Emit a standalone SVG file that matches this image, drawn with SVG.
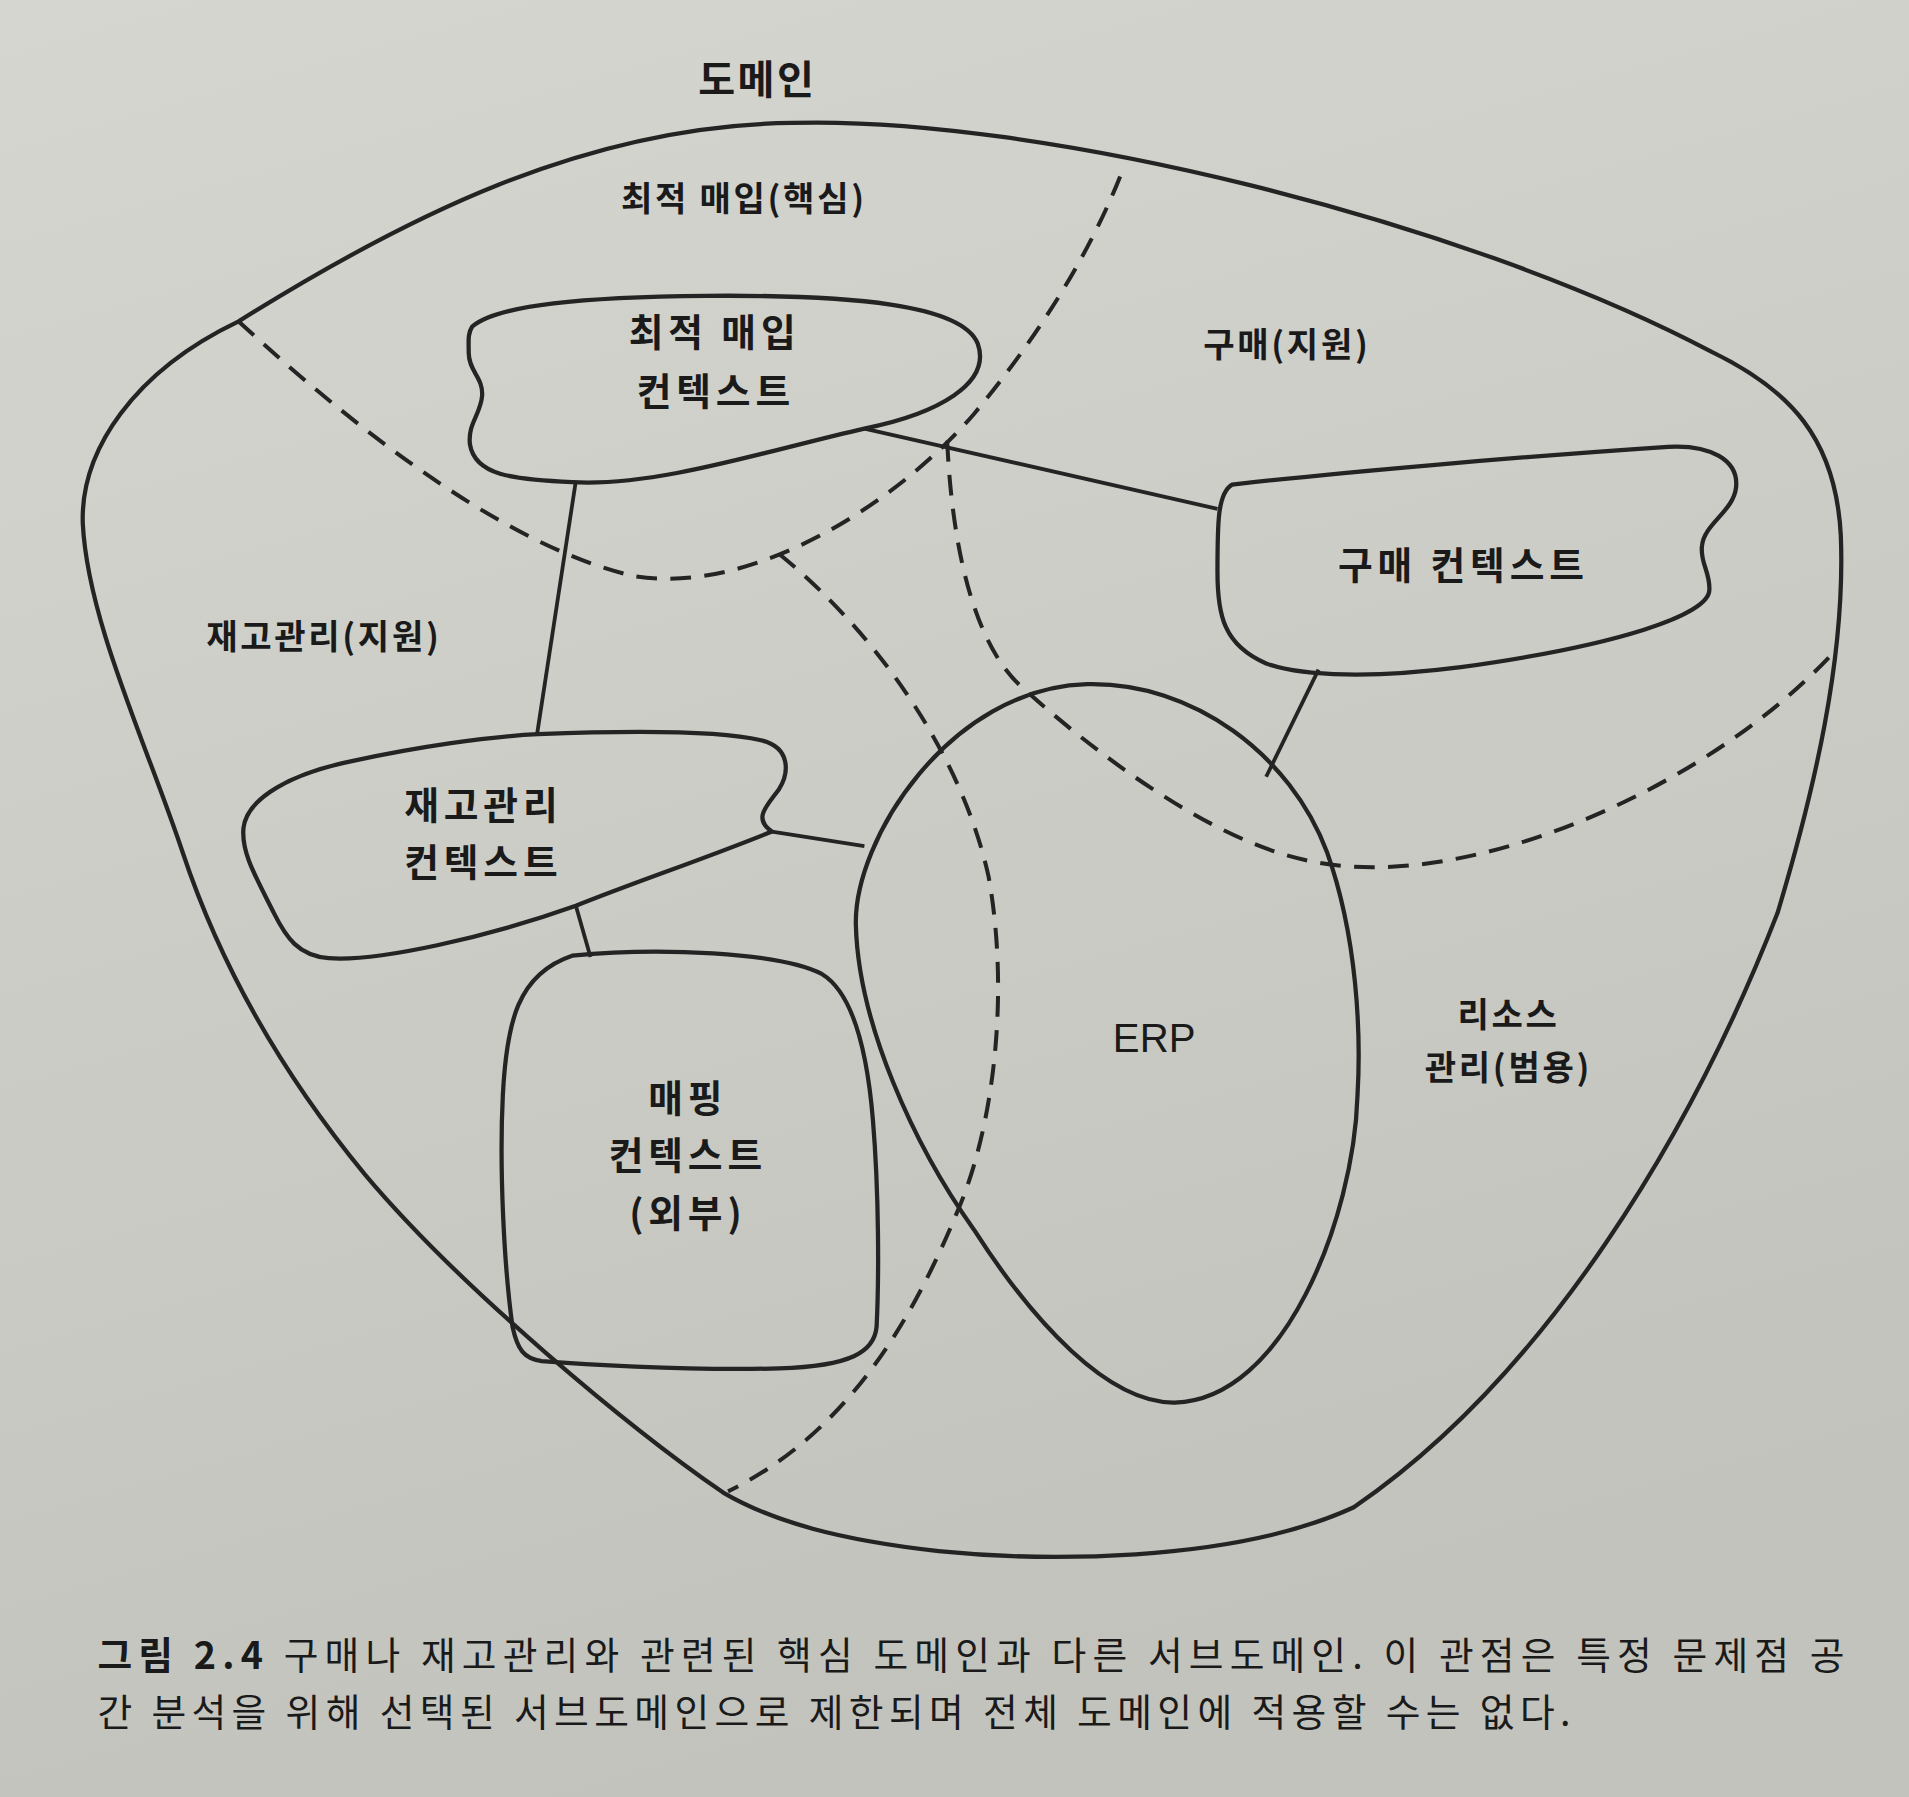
<svg xmlns="http://www.w3.org/2000/svg" width="1909" height="1797" viewBox="0 0 1909 1797">
<defs>
<linearGradient id="paper" x1="0" y1="0" x2="0.3" y2="1">
<stop offset="0" stop-color="#d5d6cf"/>
<stop offset="0.6" stop-color="#cacbc4"/>
<stop offset="1" stop-color="#c2c3bc"/>
</linearGradient>
<style>
.ln{fill:none;stroke:#242424;stroke-width:3.5;stroke-linejoin:round;stroke-linecap:round}
.ds{fill:none;stroke:#242424;stroke-width:3.3;stroke-dasharray:17 11}
.cn{fill:none;stroke:#242424;stroke-width:3.1}
.t{font-family:"Noto Sans CJK KR","Noto Sans",sans-serif;fill:#1a1a1a;text-anchor:middle;dominant-baseline:central}
.nl{font-size:31px;font-weight:700;letter-spacing:4px}
.rl{font-size:28px;font-weight:700;letter-spacing:2.2px}
.cap{font-family:"Noto Sans CJK KR","Noto Sans",sans-serif;fill:#1a1a1a;font-size:31px}
</style>
</defs>
<rect width="1909" height="1797" fill="url(#paper)"/>
<g transform="scale(1.21747)">
<g id="domain">
<path class="ln" d="M196,264 C330,180 480,103 650,101 C850,95 1200,180 1406,289 C1470,320 1508,360 1512,440 C1516,540 1490,650 1460,750 C1390,930 1270,1130 1112,1238 C1010,1285 850,1282 771,1274 C690,1265 635,1250 594,1226 C520,1175 380,1060 300,965 C230,880 180,790 150,700 C120,610 72,510 68,430 C66,370 110,305 196,264 Z"/>
<text class="t" x="622" y="63" style="font-size:33px;font-weight:700;letter-spacing:2px">도메인</text>
</g>
<g id="subdomain-boundaries">
<path class="ds" d="M196,264 C300,360 420,450 520,473 C620,490 740,410 800,340 C850,280 895,210 922,140"/>
<path class="ds" d="M640,455 C720,520 790,620 812,720 C830,820 815,930 786,996 C745,1095 690,1180 598,1225"/>
<path class="ds" d="M778,362 C782,450 800,530 840,565 C890,610 990,690 1075,707 C1200,735 1400,650 1505,537"/>
</g>
<g id="connectors">
<line class="cn" x1="710" y1="352" x2="1000" y2="418"/>
<line class="cn" x1="473" y1="395" x2="441" y2="604"/>
<line class="cn" x1="634" y1="683" x2="710" y2="695"/>
<line class="cn" x1="473" y1="744" x2="485" y2="786"/>
<line class="cn" x1="1083" y1="550" x2="1040" y2="638"/>
</g>
<g id="sd-core">
<text class="t rl" x="611" y="161">최적 매입(핵심)</text>
</g>
<g id="sd-purchase">
<text class="t rl" x="1057" y="281">구매(지원)</text>
</g>
<g id="sd-inventory">
<text class="t rl" x="266" y="521">재고관리(지원)</text>
</g>
<g id="sd-resource">
<text class="t rl" x="1239" y="831">리소스</text>
<text class="t rl" x="1239" y="875">관리(범용)</text>
</g>
<g id="ctx-optimal">
<path class="ln" d="M388,268 C410,250 480,244 580,243 C700,242 790,250 803,282 C815,315 770,340 710,352 C630,370 540,400 470,396 C420,394 390,390 386,365 C384,348 395,340 396,325 C397,310 385,305 385,290 C385,280 384,274 388,268 Z"/>
<text class="t nl" x="587" y="271">최적 매입</text>
<text class="t nl" x="588" y="319">컨텍스트</text>
</g>
<g id="ctx-purchase">
<path class="ln" d="M1012,398 C1100,388 1250,375 1370,367 C1405,365 1428,378 1426,400 C1424,420 1400,430 1398,448 C1396,462 1405,470 1404,485 C1403,505 1330,530 1200,548 C1130,557 1070,556 1040,545 C1005,530 1000,505 1000,470 C1000,430 1000,405 1012,398 Z"/>
<text class="t nl" x="1202" y="462">구매 컨텍스트</text>
</g>
<g id="ctx-inventory">
<path class="ln" d="M442,603 C520,600 590,600 625,608 C650,614 648,635 640,648 C630,662 618,672 634,683 C580,705 520,725 473,744 C400,770 310,790 270,787 C245,785 235,770 225,750 C210,720 198,700 200,680 C203,655 240,635 290,625 C340,614 400,605 442,603 Z"/>
<text class="t nl" x="397" y="659">재고관리</text>
<text class="t nl" x="397" y="706">컨텍스트</text>
</g>
<g id="ctx-mapping">
<path class="ln" d="M470,785 C540,778 640,782 675,800 C700,815 712,860 717,920 C722,980 722,1050 720,1090 C718,1110 700,1122 640,1124 C560,1126 470,1120 445,1118 C430,1116 425,1108 421,1090 C414,1040 410,960 413,900 C416,840 425,800 470,785 Z"/>
<text class="t nl" x="565" y="900">매핑</text>
<text class="t nl" x="565" y="947">컨텍스트</text>
<text class="t nl" x="565" y="994">(외부)</text>
</g>
<g id="ctx-erp">
<path class="ln" d="M893,562 C980,560 1060,620 1090,700 C1115,770 1118,850 1115,900 C1112,1000 1055,1150 965,1152 C910,1153 848,1085 800,1010 C750,940 705,840 703,760 C701,690 780,565 893,562 Z"/>
<text class="t" x="948" y="853" style="font-size:33px;font-family:'Liberation Sans',Arial,sans-serif">ERP</text>
</g>
<g id="caption">
<text class="cap" x="80" y="1371" textLength="1435" lengthAdjust="spacing"><tspan font-weight="700">그림 2.4</tspan>  구매나 재고관리와 관련된 핵심 도메인과 다른 서브도메인. 이 관점은 특정 문제점 공</text>
<text class="cap" x="80" y="1418" textLength="1210" lengthAdjust="spacing">간 분석을 위해 선택된 서브도메인으로 제한되며 전체 도메인에 적용할 수는 없다.</text>
</g>
</g>
</svg>
